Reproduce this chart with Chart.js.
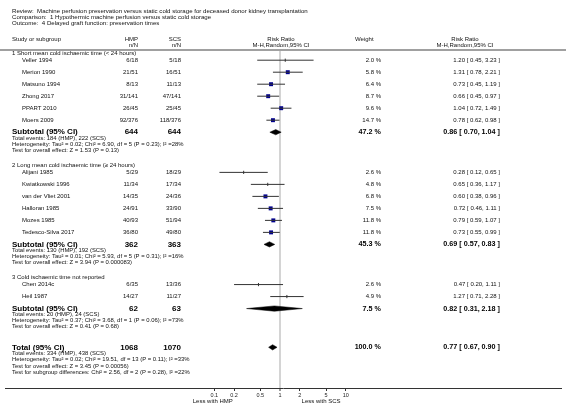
<!DOCTYPE html>
<html>
<head>
<meta charset="utf-8">
<script src="https://cdn.jsdelivr.net/npm/chart.js@4.4.1/dist/chart.umd.min.js"></script>
<style>
	html, body { margin: 0; padding: 0; background: #fff; }
</style>
</head>
<body>
<canvas id="forest" width="566" height="408"></canvas>
<script>
	// Titulos do forest plot
	var reviewTitle = 'Machine perfusion preservation versus static cold storage for deceased donor kidney transplantation';
	var comparisonTitle = '1 Hypothermic machine perfusion versus static cold storage';
	var outcomeTitle = '4 Delayed graft function: preservation times';

	// Subgrupos
	var groupTitles = ['1 Short mean cold ischaemic time (< 24 hours)',
		'2 Long mean cold ischaemic time (\u2265 24 hours)',
		'3 Cold ischaemic time not reported'];

	// Estudos
	var studyNames = ['Veller 1994', 'Merion 1990', 'Matsuno 1994', 'Zhong 2017', 'PPART 2010', 'Moers 2009',
		'Alijani 1985', 'Kwiatkowski 1996', 'van der Vliet 2001', 'Halloran 1985', 'Mozes 1985', 'Tedesco-Silva 2017',
		'Chen 2014c', 'Heil 1987'];
	var studyGroup = [0, 0, 0, 0, 0, 0, 1, 1, 1, 1, 1, 1, 2, 2];
	var hmpCounts = ['6/18', '21/51', '8/13', '31/141', '26/45', '92/376',
		'5/29', '11/34', '14/35', '24/91', '40/93', '36/80', '6/35', '14/27'];
	var scsCounts = ['5/18', '16/51', '11/13', '47/141', '25/45', '118/376',
		'18/29', '17/34', '24/36', '33/90', '51/94', '49/80', '13/36', '11/27'];
	var weights = [2.0, 5.8, 6.4, 8.7, 9.6, 14.7, 2.6, 4.8, 6.8, 7.5, 11.8, 11.8, 2.6, 4.9];
	var riskRatio = [1.20, 1.31, 0.73, 0.66, 1.04, 0.78, 0.28, 0.65, 0.60, 0.72, 0.79, 0.73, 0.47, 1.27];
	var ciLow = [0.45, 0.78, 0.45, 0.45, 0.72, 0.62, 0.12, 0.36, 0.38, 0.46, 0.59, 0.55, 0.20, 0.71];
	var ciHigh = [3.23, 2.21, 1.19, 0.97, 1.49, 0.98, 0.65, 1.17, 0.96, 1.11, 1.07, 0.99, 1.11, 2.28];

	// Subtotais
	var subHmp = ['644', '362', '62'];
	var subScs = ['644', '363', '63'];
	var subWeight = [47.2, 45.3, 7.5];
	var subRR = [0.86, 0.69, 0.82];
	var subLow = [0.70, 0.57, 0.31];
	var subHigh = [1.04, 0.83, 2.18];
	var groupNotes = [
		['Total events: 184 (HMP), 222 (SCS)',
		 'Heterogeneity: Tau\u00b2 = 0.02; Chi\u00b2 = 6.90, df = 5 (P = 0.23); I\u00b2 =28%',
		 'Test for overall effect: Z = 1.53 (P = 0.13)'],
		['Total events: 130 (HMP), 192 (SCS)',
		 'Heterogeneity: Tau\u00b2 = 0.01; Chi\u00b2 = 5.93, df = 5 (P = 0.31); I\u00b2 =16%',
		 'Test for overall effect: Z = 3.94 (P = 0.000083)'],
		['Total events: 20 (HMP), 24 (SCS)',
		 'Heterogeneity: Tau\u00b2 = 0.37; Chi\u00b2 = 3.68, df = 1 (P = 0.06); I\u00b2 =73%',
		 'Test for overall effect: Z = 0.41 (P = 0.68)']
	];

	// Total
	var totalHmp = '1068';
	var totalScs = '1070';
	var totalWeight = 100.0;
	var totalRR = 0.77;
	var totalLow = 0.67;
	var totalHigh = 0.90;
	var totalNotes = ['Total events: 334 (HMP), 438 (SCS)',
		'Heterogeneity: Tau\u00b2 = 0.02; Chi\u00b2 = 19.51, df = 13 (P = 0.11); I\u00b2 =33%',
		'Test for overall effect: Z = 3.45 (P = 0.00056)',
		'Test for subgroup differences: Chi\u00b2 = 2.56, df = 2 (P = 0.28), I\u00b2 =22%'];

	// Eixo
	var axisTicks = [0.1, 0.2, 0.5, 1, 2, 5, 10];
	var favourLeft = 'Less with HMP';
	var favourRight = 'Less with SCS';

	// Posicao das linhas (1 unidade = 1 linha de estudo)
	var rowPos = [], subPos = [], headPos = [], notePos = [];
	var cur = 0.85;
	for (var g = 0; g < groupTitles.length; g++) {
		headPos[g] = cur - 0.6;
		for (var i = 0; i < studyNames.length; i++) {
			if (studyGroup[i] === g) { rowPos[i] = cur; cur += 1; }
		}
		subPos[g] = cur;
		notePos[g] = [];
		for (var k = 0; k < groupNotes[g].length; k++) { cur += 0.5; notePos[g].push(cur); }
		cur += 1.85;
	}
	var totalPos = cur - 0.12;
	var totalNotePos = [];
	for (var k = 0; k < totalNotes.length; k++) totalNotePos.push(totalPos + 0.52 * (k + 1));

	var FONT = '"Liberation Sans", Arial, Helvetica, sans-serif';
	var DIAMOND_H = 0.22;

	// Datasets
	var datasets = [];
	for (var i = 0; i < studyNames.length; i++) {
		datasets.push({
			type: 'line',
			data: [{x: ciLow[i], y: rowPos[i]}, {x: ciHigh[i], y: rowPos[i]}],
			borderColor: '#333', borderWidth: 1, pointRadius: 0, fill: false
		});
	}
	var squares = [], ticks = [];
	for (var i = 0; i < studyNames.length; i++) {
		if (weights[i] >= 5) squares.push({x: riskRatio[i], y: rowPos[i]});
		else ticks.push({x: riskRatio[i], y: rowPos[i]});
	}
	datasets.push({
		type: 'scatter', data: squares, pointStyle: 'rect', pointRadius: 2.8,
		backgroundColor: '#00008f', borderColor: '#00008f', borderWidth: 0
	});
	datasets.push({
		type: 'scatter', data: ticks, pointStyle: 'line', rotation: 90, pointRadius: 1.6,
		borderColor: '#333', borderWidth: 1
	});
	function diamond(rr, lo, hi, y) {
		return {
			type: 'line',
			data: [{x: lo, y: y}, {x: rr, y: y - DIAMOND_H}, {x: hi, y: y}, {x: rr, y: y + DIAMOND_H}, {x: lo, y: y}],
			borderColor: '#000', borderWidth: 0.5, backgroundColor: '#000', pointRadius: 0,
			fill: 'shape', tension: 0
		};
	}
	for (var g = 0; g < subRR.length; g++) datasets.push(diamond(subRR[g], subLow[g], subHigh[g], subPos[g]));
	datasets.push(diamond(totalRR, totalLow, totalHigh, totalPos));

	// Escrita das colunas de texto
	function txt(ctx, s, x, y, size, align, bold, color) {
		ctx.font = (bold ? 'bold ' : '') + size + 'px ' + FONT;
		ctx.textAlign = align || 'left';
		ctx.textBaseline = 'middle';
		ctx.fillStyle = color || '#111';
		ctx.fillText(s, x, y);
	}

	var colName = 12, colStudy = 22, colHmp = 138, colScs = 181, colWeight = 381, colCI = 500;

	function ciText(rr, lo, hi) {
		return rr.toFixed(2) + ' [ ' + lo.toFixed(2) + ', ' + hi.toFixed(2) + ' ]';
	}

	var textPlugin = {
		id: 'forestText',
		afterDraw: function(chart) {
			var ctx = chart.ctx, ys = chart.scales.y, area = chart.chartArea;
			ctx.save();

			// cabecalho
			txt(ctx, 'Review:  ' + reviewTitle, colName, 11, 6.1);
			txt(ctx, 'Comparison:  ' + comparisonTitle, colName, 17, 6.1);
			txt(ctx, 'Outcome:  ' + outcomeTitle, colName, 23, 6.1);

			txt(ctx, 'Study or subgroup', colName, 39, 6);
			txt(ctx, 'HMP', colHmp, 39, 6, 'right');
			txt(ctx, 'n/N', colHmp, 45, 6, 'right');
			txt(ctx, 'SCS', colScs, 39, 6, 'right');
			txt(ctx, 'n/N', colScs, 45, 6, 'right');
			txt(ctx, 'Risk Ratio', 281, 39, 6, 'center');
			txt(ctx, 'M-H,Random,95% CI', 281, 45, 6, 'center');
			txt(ctx, 'Weight', 355, 39, 6);
			txt(ctx, 'Risk Ratio', 465, 39, 6, 'center');
			txt(ctx, 'M-H,Random,95% CI', 465, 45, 6, 'center');

			ctx.strokeStyle = '#a0a0a0';
			ctx.lineWidth = 2;
			ctx.beginPath();
			ctx.moveTo(0, area.top);
			ctx.lineTo(chart.width, area.top);
			ctx.stroke();

			// subgrupos
			for (var g = 0; g < groupTitles.length; g++) {
				txt(ctx, groupTitles[g], colName, ys.getPixelForValue(headPos[g]), 6);
				var sy = ys.getPixelForValue(subPos[g]);
				txt(ctx, 'Subtotal (95% CI)', colName, sy, 8, 'left', true, '#000');
				txt(ctx, subHmp[g], colHmp, sy, 8, 'right', true, '#000');
				txt(ctx, subScs[g], colScs, sy, 8, 'right', true, '#000');
				txt(ctx, subWeight[g].toFixed(1) + ' %', colWeight, sy, 7.2, 'right', true, '#000');
				txt(ctx, ciText(subRR[g], subLow[g], subHigh[g]), colCI, sy, 7.2, 'right', true, '#000');
				for (var k = 0; k < groupNotes[g].length; k++) {
					txt(ctx, groupNotes[g][k], colName, ys.getPixelForValue(notePos[g][k]), 5.9);
				}
			}

			// estudos
			for (var i = 0; i < studyNames.length; i++) {
				var y = ys.getPixelForValue(rowPos[i]);
				txt(ctx, studyNames[i], colStudy, y, 6);
				txt(ctx, hmpCounts[i], colHmp, y, 6, 'right');
				txt(ctx, scsCounts[i], colScs, y, 6, 'right');
				txt(ctx, weights[i].toFixed(1) + ' %', colWeight, y, 6, 'right');
				txt(ctx, ciText(riskRatio[i], ciLow[i], ciHigh[i]), colCI, y, 6, 'right');
			}

			// total
			var ty = ys.getPixelForValue(totalPos);
			txt(ctx, 'Total (95% CI)', colName, ty, 8, 'left', true, '#000');
			txt(ctx, totalHmp, colHmp, ty, 8, 'right', true, '#000');
			txt(ctx, totalScs, colScs, ty, 8, 'right', true, '#000');
			txt(ctx, totalWeight.toFixed(1) + ' %', colWeight, ty, 7.2, 'right', true, '#000');
			txt(ctx, ciText(totalRR, totalLow, totalHigh), colCI, ty, 7.2, 'right', true, '#000');
			for (var k = 0; k < totalNotes.length; k++) {
				txt(ctx, totalNotes[k], colName, ys.getPixelForValue(totalNotePos[k]), 5.9);
			}

			// legendas do eixo
			var xs = chart.scales.x;
			txt(ctx, favourLeft, xs.getPixelForValue(0.095), 401, 6, 'center');
			txt(ctx, favourRight, xs.getPixelForValue(4.2), 401, 6, 'center');
			ctx.restore();
		}
	};

	// escala log: 1 em x=280, 67px por decada, ocupando toda a largura
	var decade = 67, onePx = 280, W = 566;
	var xMin = Math.pow(10, -onePx / decade);
	var xMax = Math.pow(10, (W - onePx) / decade);

	var ctx = document.getElementById('forest');
	var chart = new Chart(ctx, {
		type: 'scatter',
		data: { datasets: datasets },
		options: {
			responsive: false,
			animation: false,
			layout: { padding: { top: 50, bottom: 0, left: 0, right: 0 } },
			plugins: { legend: { display: false }, tooltip: { enabled: false } },
			scales: {
				x: {
					type: 'logarithmic',
					min: xMin,
					max: xMax,
					afterBuildTicks: function(scale) {
						scale.ticks = axisTicks.map(function(v) { return {value: v}; });
					},
					afterFit: function(scale) { scale.height = 20; },
					grid: {
						color: function(c) { return c.tick && c.tick.value === 1 ? '#d4d4d4' : 'rgba(0,0,0,0)'; },
						lineWidth: function(c) { return c.tick && c.tick.value === 1 ? 2 : 1; },
						tickColor: '#333',
						tickWidth: 1,
						tickLength: 3
					},
					border: { display: true, color: '#333', width: 1 },
					ticks: {
						autoSkip: false,
						maxRotation: 0,
						padding: 1,
						color: '#222',
						font: { family: FONT, size: 5.5 },
						callback: function(v) { return String(v); }
					}
				},
				y: {
					type: 'linear',
					display: false,
					reverse: true,
					min: 0,
					max: 28.17
				}
			}
		},
		plugins: [textPlugin]
	});
</script>
</body>
</html>
